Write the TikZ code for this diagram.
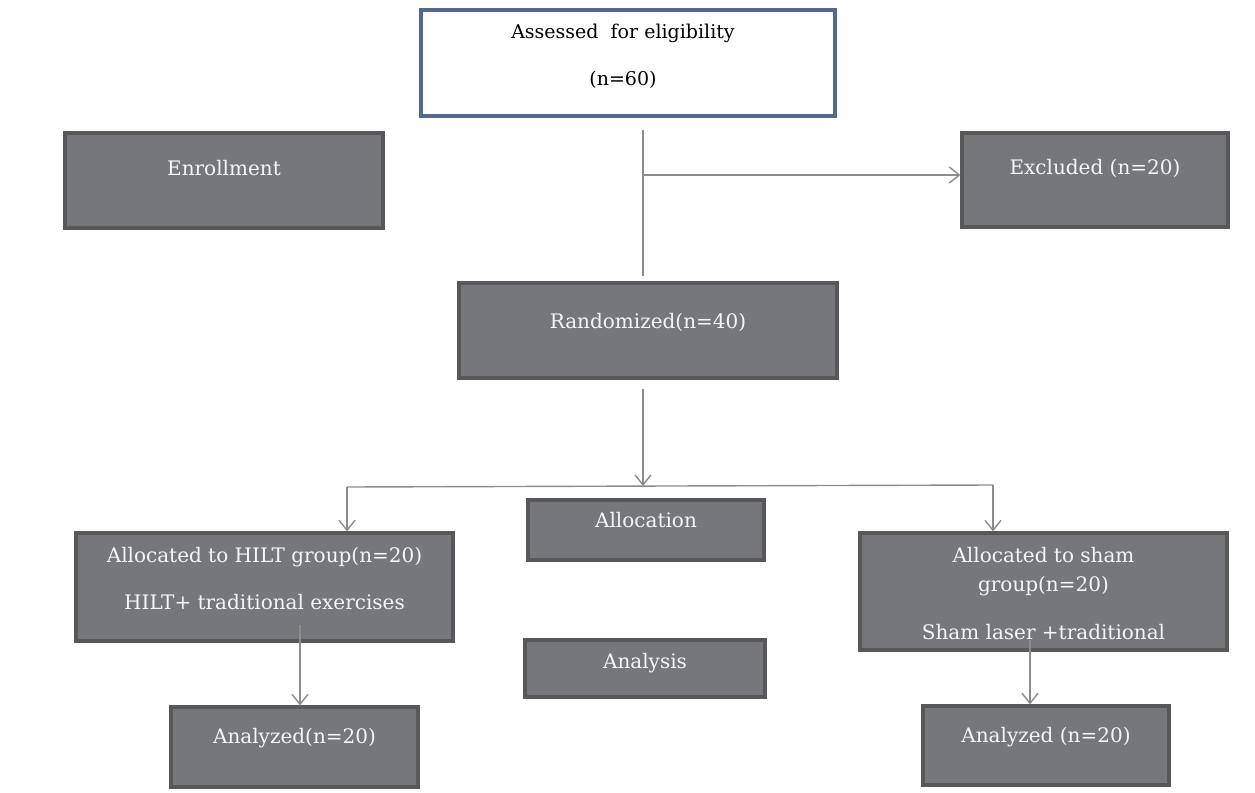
\documentclass[tikz,border=0pt]{standalone}
\usepackage{fontspec}
\setmainfont{DejaVu Serif}
\usetikzlibrary{arrows.meta,fit}
\definecolor{boxfill}{HTML}{76777B}
\definecolor{boxline}{HTML}{58585A}
\definecolor{topline}{HTML}{506A8F}
\definecolor{linkgray}{HTML}{8C8C8C}
\definecolor{boxtext}{HTML}{F3F5FB}
\tikzset{
  flowbox/.style={draw=boxline, fill=boxfill, line width=1.6pt, inner sep=0pt},
  topbox/.style={draw=topline, fill=white, line width=1.8pt, inner sep=0pt},
  boxtxt/.style={anchor=base, inner sep=0pt, text=boxtext, font=\fontsize{10}{12}\selectfont},
  toptxt/.style={anchor=base, inner sep=0pt, text=black, font=\fontsize{9.5}{12}\selectfont},
  link/.style={draw=linkgray, line width=0.7pt},
  arrow/.style={link, -{Straight Barb[length=5pt,width=8pt]}},
}
\begin{document}
\begin{tikzpicture}[x=0.5pt, y=-0.5pt]
  \useasboundingbox (0,0) rectangle (1255,793);
  % boxes, given by their corners in pixels of the source
  \node[topbox,  fit={(421,10) (835,116)}]  (assess) {};
  \node[flowbox, fit={(65,133) (383,228)}]  (enrol)  {};
  \node[flowbox, fit={(962,133) (1228,227)}] (excl)  {};
  \node[flowbox, fit={(459,283) (837,378)}] (rand)   {};
  \node[flowbox, fit={(528,500) (764,560)}] (alloc)  {};
  \node[flowbox, fit={(525,640) (765,697)}] (analys) {};
  \node[flowbox, fit={(76,533) (453,641)}]  (hilt)   {};
  \node[flowbox, fit={(860,533) (1227,650)}] (sham)  {};
  \node[flowbox, fit={(171,707) (418,787)}] (anaL)   {};
  \node[flowbox, fit={(923,706) (1169,785)}] (anaR)  {};
  % texts, one line at a time (baselines)
  \node[toptxt] (assessA) at (623,38) {Assessed\ \ for eligibility};
  \node[toptxt] (assessB) at (623,85) {(n=60)};
  \node[boxtxt] (enrolT)  at (enrol.north |- 0,175) {Enrollment};
  \node[boxtxt] (exclT)   at (excl.north |- 0,174) {Excluded (n=20)};
  \node[boxtxt] (randT)   at (rand.north |- 0,328) {Randomized(n=40)};
  \node[boxtxt] (allocT)  at (alloc.north |- 0,527) {Allocation};
  \node[boxtxt] (analysT) at (analys.north |- 0,668) {Analysis};
  \node[boxtxt] (hiltA)   at (hilt.north |- 0,562) {Allocated to HILT group(n=20)};
  \node[boxtxt] (hiltB)   at (hilt.north |- 0,609) {HILT+ traditional exercises};
  \node[boxtxt] (shamA)   at (sham.north |- 0,562) {Allocated to sham};
  \node[boxtxt] (shamB)   at (sham.north |- 0,591) {group(n=20)};
  \node[boxtxt] (shamC)   at (sham.north |- 0,639) {Sham laser +traditional};
  \node[boxtxt] (anaLT)   at (anaL.north |- 0,743) {Analyzed(n=20)};
  \node[boxtxt] (anaRT)   at (anaR.north |- 0,742) {Analyzed (n=20)};
  % junctions of the connectors
  \coordinate (trunk) at (643,175);
  \coordinate (fork)  at (643,486);
  \coordinate (forkL) at (347,487);
  \coordinate (forkR) at (993,485);
  \coordinate (dropL) at (300,625);
  \coordinate (dropR) at (1030,640);
  % connectors
  \draw[link, shorten <=6pt, shorten >=2.5pt] (assess.south -| trunk) -- (rand.north -| trunk);
  \draw[arrow] (trunk) -- (trunk -| excl.west);
  \draw[arrow, shorten <=4.5pt] (rand.south -| fork) -- (fork);
  \draw[link] (forkL) -- (forkR);
  \draw[arrow] (forkL) -- (forkL |- hilt.north);
  \draw[arrow] (forkR) -- (forkR |- sham.north);
  \draw[arrow] (dropL) -- (dropL |- anaL.north);
  \draw[arrow] (dropR) -- (dropR |- anaR.north);
\end{tikzpicture}
\end{document}
